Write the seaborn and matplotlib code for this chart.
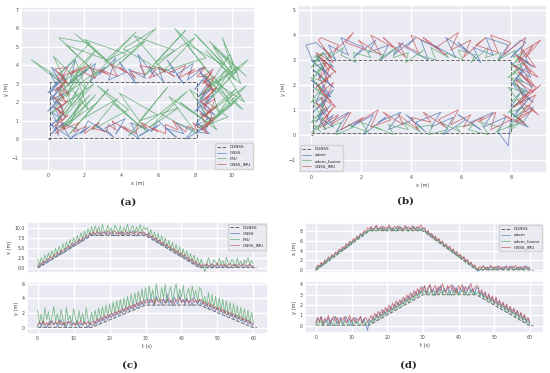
import numpy as np
import matplotlib
matplotlib.use('Agg')
import matplotlib.pyplot as plt
import seaborn as sns

# sample clock, 0.5 s step
t = np.arange(0, 60.5, 0.5)

# DGNSS reference (waypoints of the rectangle run)
dgnss_t = [0, 15, 30, 45, 60, 61]
dgnss_x_a = [0.0, 8.1, 8.1, 0.1, 0.1, 0.0]
dgnss_y_a = [0.05, 0.05, 3.1, 3.1, 0.0, 0.0]
dgnss_x_b = [0.0, 8.0, 8.0, 0.1, 0.1, 0.0]
dgnss_y_b = [0.05, 0.05, 3.0, 3.0, 0.0, 0.0]

# ---- case (a)/(c): GNSS, IMU, GNSS_IMU
gnss_x = [0.6, 0.2, 1.2, 0.7, 1.7, 1.2, 2.3, 1.8, 2.2, 3.1, 2.6, 3.6, 3.1, 4.2, 3.7, 4.0, 5.0, 4.5, 5.5, 5.0, 6.1, 5.6, 6.0, 7.0, 6.4, 7.4, 7.0, 7.9, 7.5, 8.6, 8.1,
          8.8, 8.1, 8.6, 8.9, 8.0, 8.5, 9.0, 8.2, 8.7, 8.3, 9.1, 8.4, 8.0, 8.8, 8.5, 9.0, 8.1, 8.6, 8.3, 8.9, 8.2, 8.7, 9.2, 8.4, 8.0, 8.6, 8.9, 8.3, 8.7, 8.2,
          8.5, 7.6, 7.9, 7.0, 7.4, 6.5, 6.9, 6.0, 6.3, 5.5, 5.8, 4.9, 5.3, 4.4, 4.8, 3.9, 4.2, 3.3, 3.7, 2.8, 3.1, 2.3, 2.6, 1.7, 2.1, 1.2, 1.5, 0.7, 1.0, 0.2,
          0.7, 0.1, 0.5, 0.9, 0.2, 0.6, 0.0, 0.8, 0.3, 0.7, 0.1, 0.9, 0.4, 0.2, 0.8, 0.5, 0.0, 0.6, 0.9, 0.3, 0.7, 0.2, 0.5, 0.8, 0.1, 0.6, 0.4, 0.9, 0.2, 0.5]
gnss_y = [0.2, 0.8, 0.1, 0.9, 0.5, 0.0, 0.7, 0.3, 1.0, 0.4, 0.8, 0.1, 0.6, 1.1, 0.3, 0.7, 0.0, 0.9, 0.5, 0.2, 0.8, 0.4, 1.0, 0.1, 0.6, 0.3, 0.9, 0.5, 0.0, 0.7, 0.4,
          0.3, 0.9, 0.5, 1.2, 0.7, 1.4, 0.9, 1.6, 1.1, 1.8, 1.3, 2.0, 1.5, 2.2, 1.7, 2.4, 1.9, 2.6, 2.1, 2.8, 2.3, 3.0, 2.5, 3.2, 2.7, 3.4, 2.9, 3.6, 3.1, 3.8,
          3.9, 3.2, 4.1, 3.5, 3.0, 4.3, 3.6, 3.9, 3.1, 4.0, 3.4, 4.6, 3.3, 3.8, 3.0, 4.2, 3.6, 3.2, 4.4, 3.5, 3.9, 3.1, 4.1, 3.4, 3.8, 3.0, 4.3, 3.6, 3.2, 3.9,
          3.1, 3.6, 2.9, 3.4, 2.6, 3.2, 2.5, 2.9, 2.3, 2.8, 2.1, 2.5, 1.9, 2.4, 1.7, 2.1, 1.5, 2.0, 1.3, 1.8, 1.1, 1.5, 0.9, 1.3, 0.7, 1.1, 0.5, 0.9, 0.3, 0.6]
imu_x = [2.3, 0.7, 2.6, 1.2, 3.3, 1.9, 3.8, 2.4, 4.4, 2.7, 4.9, 3.5, 5.4, 3.9, 6.0, 4.4, 6.5, 5.0, 7.1, 5.5, 7.6, 6.1, 8.1, 6.6, 8.7, 7.2, 9.2, 7.7, 9.8, 8.2, 10.3,
         8.6, 10.5, 9.0, 10.2, 8.4, 10.8, 9.3, 8.8, 10.6, 9.1, 10.0, 8.5, 10.7, 9.6, 8.9, 10.4, 8.3, 10.1, 9.2, 10.9, 8.7, 9.9, 10.5, 8.6, 10.2, 9.0, 10.8, 8.8, 10.3, 9.5,
         10.1, 8.0, 9.6, 7.5, 9.0, 6.9, 8.6, 6.3, 8.0, 5.8, 7.5, 5.2, 6.9, 4.7, 6.4, 4.1, 5.9, 3.7, 5.3, 3.1, 4.8, 2.6, 4.3, 2.0, 3.7, 1.5, 3.2, 1.0, 2.6, 0.6,
         2.3, 0.5, -0.9, 0.8, 2.6, 1.1, 0.3, 2.1, 1.5, 0.6, 2.4, 1.0, 1.8, 0.4, 2.7, 1.3, 0.7, 2.2, 1.6, 0.2, 2.5, 0.9, 1.7, 0.5, 2.0, 1.2, 2.6, 0.8, 1.9, 1.1]
imu_y = [2.4, 0.6, 1.9, 0.3, 2.7, 1.1, 2.2, 0.5, 1.6, 2.9, 0.8, 2.0, 0.4, 2.5, 1.3, 0.2, 2.8, 1.0, 1.7, 0.6, 2.6, 1.4, 0.3, 2.3, 0.9, 2.0, 0.5, 2.7, 1.2, 0.6, 2.1,
         0.7, 2.4, 1.0, 2.7, 1.2, 2.9, 1.4, 3.1, 1.6, 3.3, 1.8, 3.5, 2.0, 3.7, 2.2, 3.9, 2.4, 4.1, 2.6, 4.3, 2.8, 4.6, 3.0, 4.8, 3.2, 5.0, 3.4, 5.3, 3.6, 5.5,
         3.5, 5.7, 4.0, 5.2, 3.3, 6.0, 4.4, 3.7, 5.5, 4.1, 5.9, 3.4, 4.8, 5.6, 3.6, 4.9, 6.0, 3.9, 5.3, 4.2, 5.8, 3.5, 4.6, 5.4, 3.8, 5.7, 4.3, 5.1, 3.6, 5.5,
         5.2, 3.4, 4.3, 3.0, 4.8, 2.9, 4.5, 2.7, 4.3, 2.5, 4.1, 2.3, 3.9, 2.0, 3.7, 1.8, 3.5, 1.6, 3.3, 1.4, 3.0, 1.2, 2.8, 1.0, 2.6, 0.8, 2.4, 0.6, 2.1, 0.7]
fus_x_a = [0.4, 1.1, 0.8, 1.7, 1.4, 2.1, 2.0, 2.8, 2.4, 3.2, 3.3, 3.7, 3.5, 4.4, 4.1, 4.8, 4.9, 5.4, 5.1, 6.0, 5.7, 6.4, 6.4, 7.1, 6.8, 7.5, 7.6, 8.1, 7.9, 8.7, 8.4,
           8.9, 8.4, 9.1, 8.6, 8.3, 9.0, 8.8, 8.5, 9.2, 8.7, 8.4, 8.9, 9.1, 8.5, 8.8, 8.3, 9.0, 8.6, 9.2, 8.4, 8.8, 9.0, 8.5, 8.7, 9.1, 8.4, 8.9, 8.6, 9.0, 8.5,
           8.1, 8.6, 7.6, 8.0, 7.1, 7.5, 6.6, 6.9, 6.0, 6.4, 5.5, 5.9, 5.0, 5.3, 4.5, 4.8, 3.9, 4.3, 3.4, 3.8, 2.8, 3.3, 2.3, 2.6, 1.8, 2.2, 1.2, 1.6, 0.8, 1.1,
           0.4, 0.9, 0.6, 1.1, 0.5, 0.8, 1.0, 0.4, 0.7, 1.2, 0.5, 0.9, 0.6, 1.0, 0.3, 0.8, 1.1, 0.5, 0.7, 0.9, 0.4, 1.0, 0.6, 0.8, 1.1, 0.5, 0.7, 0.9, 0.4, 0.6]
fus_y_a = [0.3, 0.8, 0.5, 0.9, 0.4, 0.7, 0.3, 0.9, 0.6, 0.4, 0.8, 0.5, 1.0, 0.4, 0.7, 0.3, 0.8, 0.6, 0.9, 0.4, 0.6, 0.3, 0.8, 0.5, 1.0, 0.4, 0.7, 0.5, 0.9, 0.3, 0.7,
           0.9, 0.5, 1.2, 0.8, 1.4, 1.0, 1.6, 1.2, 1.8, 1.4, 2.0, 1.6, 2.2, 1.8, 2.4, 2.0, 2.6, 2.2, 2.8, 2.4, 3.0, 2.6, 3.2, 2.8, 3.4, 3.0, 3.6, 3.2, 3.8, 3.4,
           3.4, 3.9, 3.5, 3.8, 3.3, 4.0, 3.6, 3.4, 3.9, 3.7, 3.3, 3.8, 4.0, 3.5, 3.7, 3.3, 3.9, 3.6, 4.1, 3.4, 3.8, 3.5, 3.9, 3.3, 3.7, 4.0, 3.5, 3.8, 3.4, 3.9,
           3.8, 3.2, 3.6, 3.0, 3.4, 2.8, 3.2, 2.6, 2.9, 2.4, 2.8, 2.2, 2.5, 2.0, 2.3, 1.8, 2.1, 1.6, 1.9, 1.4, 1.7, 1.2, 1.5, 1.0, 1.3, 0.8, 1.1, 0.6, 0.8, 0.3]

# ---- case (b)/(d): odom, odom_fusion, GNSS_IMU
odom_x = [0.1, 0.9, 0.6, 1.5, 1.0, 2.0, 1.6, 2.5, 2.1, 3.0, 2.7, 3.6, 3.1, 4.1, 3.8, 4.6, 4.2, 5.2, 4.8, 5.7, 5.3, 6.2, 5.9, 6.8, 6.4, 7.3, 6.9, 7.8, 7.5, 7.9, 8.0,
          8.7, 8.0, 8.5, 8.9, 8.1, 8.6, 8.2, 8.8, 8.0, 8.4, 8.9, 8.3, 8.6, 8.0, 8.7, 8.2, 8.9, 8.4, 8.1, 8.6, 8.8, 8.0, 8.5, 8.3, 8.9, 8.1, 8.7, 8.4, 8.0, 8.6,
          8.4, 7.5, 7.9, 7.0, 7.3, 6.5, 6.8, 5.9, 6.3, 5.4, 5.8, 4.9, 5.2, 4.4, 4.7, 3.8, 4.2, 3.3, 3.7, 2.8, 3.1, 2.3, 2.6, 1.7, 2.1, 1.2, 1.5, 0.7, 1.0, 0.2,
          -0.2, 0.1, 0.5, 0.9, 0.2, 0.6, 0.0, 0.8, 0.4, 0.7, 0.1, 0.9, 0.3, 0.6, 0.0, 0.8, 0.5, 0.2, 0.9, 0.4, 0.7, 0.1, 0.6, 0.3, 0.8, 0.2, 0.5, 0.9, 0.3, 0.6]
odom_y = [0.2, 0.8, 0.4, 0.9, 0.1, 0.6, 0.3, 0.8, 0.0, 0.7, 0.5, 0.9, 0.2, 0.6, 0.8, 0.1, 0.5, 0.9, 0.3, 0.7, 0.0, 0.6, 0.8, 0.2, 0.5, 0.9, 0.3, 0.7, 0.1, -0.45, 0.6,
          0.3, 0.9, 0.5, 1.1, 0.7, 1.3, 0.9, 1.5, 1.1, 1.7, 1.3, 1.9, 1.5, 2.1, 1.7, 2.3, 1.9, 2.5, 2.1, 2.7, 2.3, 2.9, 2.5, 3.1, 2.7, 3.3, 2.9, 3.5, 3.1, 3.7,
          3.8, 3.0, 3.6, 3.9, 3.2, 3.5, 2.9, 3.7, 3.3, 3.9, 3.1, 3.6, 3.4, 3.8, 3.0, 3.5, 3.9, 3.2, 3.7, 3.0, 3.6, 3.3, 3.8, 3.1, 3.5, 3.9, 3.2, 3.6, 3.0, 3.7,
          3.6, 2.9, 3.3, 2.7, 3.2, 2.5, 3.0, 2.3, 2.8, 2.1, 2.6, 1.9, 2.4, 1.7, 2.2, 1.5, 2.0, 1.3, 1.8, 1.1, 1.6, 0.9, 1.4, 0.7, 1.2, 0.5, 1.0, 0.3, 0.7, 0.2]
odomf_x = [0.0, 0.6, 0.5, 1.2, 1.0, 1.7, 1.5, 2.3, 2.0, 2.8, 2.6, 3.3, 3.1, 3.9, 3.7, 4.4, 4.2, 4.9, 4.7, 5.5, 5.2, 6.0, 5.8, 6.5, 6.3, 7.1, 6.8, 7.6, 7.4, 8.1, 8.0,
           8.4, 7.9, 8.3, 8.5, 8.0, 8.2, 8.6, 7.9, 8.3, 8.1, 8.5, 8.0, 8.4, 8.2, 7.9, 8.6, 8.1, 8.3, 8.0, 8.5, 8.2, 7.9, 8.4, 8.1, 8.6, 8.0, 8.3, 8.2, 8.5, 8.1,
           8.2, 7.5, 7.6, 7.0, 7.1, 6.4, 6.6, 5.9, 6.1, 5.4, 5.5, 4.8, 5.0, 4.3, 4.5, 3.8, 3.9, 3.3, 3.4, 2.7, 2.9, 2.2, 2.4, 1.7, 1.8, 1.2, 1.3, 0.6, 0.8, 0.1,
           0.5, 0.1, 0.4, 0.0, 0.6, 0.2, 0.5, 0.1, 0.3, 0.6, 0.0, 0.4, 0.2, 0.5, 0.1, 0.6, 0.3, 0.0, 0.4, 0.5, 0.1, 0.3, 0.6, 0.2, 0.4, 0.0, 0.5, 0.3, 0.1, 0.4]
odomf_y = [0.1, 0.4, 0.2, 0.5, 0.0, 0.3, 0.4, 0.1, 0.5, 0.2, 0.3, 0.0, 0.4, 0.2, 0.5, 0.1, 0.3, 0.4, 0.0, 0.2, 0.5, 0.1, 0.3, 0.4, 0.2, 0.0, 0.5, 0.3, 0.1, 0.4, 0.2,
           0.5, 0.3, 0.7, 0.5, 0.9, 0.7, 1.1, 0.9, 1.3, 1.1, 1.5, 1.3, 1.7, 1.5, 1.9, 1.7, 2.1, 1.9, 2.3, 2.1, 2.5, 2.3, 2.7, 2.5, 2.9, 2.7, 3.1, 2.9, 3.3, 3.1,
           3.4, 3.0, 3.3, 3.1, 3.5, 2.9, 3.2, 3.4, 3.0, 3.3, 3.1, 3.5, 3.0, 3.2, 3.4, 2.9, 3.3, 3.1, 3.5, 3.0, 3.2, 3.4, 3.1, 3.3, 2.9, 3.2, 3.5, 3.0, 3.3, 3.1,
           3.3, 2.9, 3.1, 2.7, 2.9, 2.5, 2.7, 2.3, 2.5, 2.1, 2.3, 1.9, 2.1, 1.7, 1.9, 1.5, 1.7, 1.3, 1.5, 1.1, 1.3, 0.9, 1.1, 0.7, 0.9, 0.5, 0.7, 0.3, 0.4, 0.1]
fus_x_b = [0.3, 1.1, 0.8, 1.6, 1.2, 2.1, 1.9, 2.7, 2.4, 3.2, 2.9, 3.7, 3.5, 4.3, 4.0, 4.8, 4.5, 5.4, 5.1, 5.9, 5.6, 6.4, 6.1, 6.9, 6.7, 7.4, 7.2, 8.0, 7.7, 8.6, 8.3,
           8.9, 8.2, 8.7, 9.1, 8.3, 8.6, 9.0, 8.1, 8.8, 8.4, 9.2, 8.5, 8.2, 8.9, 8.6, 9.0, 8.3, 8.7, 8.1, 9.1, 8.4, 8.8, 8.2, 9.0, 8.5, 8.3, 8.9, 8.6, 9.2, 8.4,
           8.6, 7.7, 8.0, 7.2, 7.5, 6.6, 7.0, 6.1, 6.4, 5.6, 5.9, 5.0, 5.4, 4.5, 4.9, 4.0, 4.3, 3.5, 3.8, 2.9, 3.3, 2.4, 2.8, 1.9, 2.2, 1.4, 1.7, 0.9, 1.1, 0.4,
           0.3, 0.8, 0.5, 0.9, 0.2, 0.7, 0.4, 1.0, 0.6, 0.3, 0.8, 0.5, 0.9, 0.2, 0.7, 0.4, 0.9, 0.6, 0.3, 0.8, 0.5, 1.0, 0.4, 0.7, 0.2, 0.6, 0.9, 0.4, 0.7, 0.5]
fus_y_b = [0.3, 0.8, 0.4, 0.9, 0.2, 0.7, 0.5, 1.0, 0.3, 0.6, 0.9, 0.4, 0.8, 0.2, 0.7, 0.5, 0.9, 0.3, 0.6, 1.0, 0.4, 0.8, 0.3, 0.7, 0.5, 0.9, 0.2, 0.6, 0.8, 0.4, 0.7,
           1.0, 0.5, 1.2, 0.8, 1.4, 0.9, 1.6, 1.1, 1.8, 1.3, 2.0, 1.5, 2.2, 1.7, 2.4, 1.9, 2.5, 2.1, 2.8, 2.3, 3.0, 2.5, 3.2, 2.7, 3.4, 2.9, 3.6, 3.1, 3.8, 3.3,
           3.9, 3.2, 3.7, 4.0, 3.3, 3.6, 3.9, 3.1, 3.8, 3.4, 4.1, 3.5, 3.2, 3.9, 3.6, 4.0, 3.3, 3.7, 3.1, 3.9, 3.5, 4.0, 3.2, 3.8, 3.4, 3.7, 4.1, 3.3, 3.6, 3.9,
           3.8, 3.1, 3.5, 2.9, 3.3, 2.6, 3.1, 2.5, 2.9, 2.2, 2.8, 2.1, 2.5, 1.9, 2.3, 1.7, 2.1, 1.5, 1.9, 1.3, 1.7, 1.1, 1.5, 0.9, 1.3, 0.7, 1.1, 0.5, 0.8, 0.3]

c_ref = '#444444'
c_blue = '#4C72B0'
c_green = '#55A868'
c_red = '#C44E52'

sns.set_theme(style='darkgrid')
plt.rcParams['font.family'] = ['DejaVu Sans']

fig = plt.figure(figsize=(5.5, 3.73), dpi=100)

TICK_FS = 3.3
LAB_FS = 3.6
LEG_FS = 3.0


def draw(ax, x, y, color, label, ls='-', lw=0.6, alpha=0.75):
    sns.lineplot(x=x, y=y, ax=ax, sort=False, estimator=None, legend=False,
                 color=color, linestyle=ls, linewidth=lw, alpha=alpha, label=label)


def style(ax):
    ax.tick_params(labelsize=TICK_FS, pad=1.5, length=0, labelcolor='#444444')
    ax.xaxis.label.set_size(LAB_FS)
    ax.yaxis.label.set_size(LAB_FS)
    ax.xaxis.label.set_color('#444444')
    ax.yaxis.label.set_color('#444444')


def legend(ax, loc):
    ax.legend(loc=loc, fontsize=LEG_FS, handlelength=2.2, labelspacing=0.45,
              borderpad=0.5, handletextpad=0.8)


# (a) trajectory, GNSS / IMU
ax_a = fig.add_axes([0.0376, 0.5416, 0.426, 0.4397])
draw(ax_a, dgnss_x_a, dgnss_y_a, c_ref, 'DGNSS', ls='--', lw=0.7, alpha=0.8)
draw(ax_a, gnss_x, gnss_y, c_blue, 'GNSS')
draw(ax_a, imu_x, imu_y, c_green, 'IMU')
draw(ax_a, fus_x_a, fus_y_a, c_red, 'GNSS_IMU')
ax_a.set_xlim(-1.47, 11.27)
ax_a.set_ylim(-1.72, 7.16)
ax_a.set_xticks(range(0, 11, 2))
ax_a.set_yticks(range(-1, 8))
ax_a.set_xlabel('x (m)', labelpad=2)
ax_a.set_ylabel('y (m)', labelpad=2)
legend(ax_a, 'lower right')
style(ax_a)

# (b) trajectory, odometry
ax_b = fig.add_axes([0.5413, 0.5362, 0.4527, 0.4504])
draw(ax_b, dgnss_x_b, dgnss_y_b, c_ref, 'DGNSS', ls='--', lw=0.7, alpha=0.8)
draw(ax_b, odom_x, odom_y, c_blue, 'odom')
draw(ax_b, odomf_x, odomf_y, c_green, 'odom_fusion')
draw(ax_b, fus_x_b, fus_y_b, c_red, 'GNSS_IMU')
ax_b.set_xlim(-0.53, 9.44)
ax_b.set_ylim(-1.54, 5.21)
ax_b.set_xticks(range(0, 9, 2))
ax_b.set_yticks(range(-1, 6))
ax_b.set_xlabel('x (m)', labelpad=2)
ax_b.set_ylabel('y (m)', labelpad=2)
legend(ax_b, 'lower left')
style(ax_b)

# (c) x(t), y(t), GNSS / IMU
ax_c1 = fig.add_axes([0.0485, 0.2673, 0.4387, 0.1383])
ax_c2 = fig.add_axes([0.0485, 0.1038, 0.4387, 0.141])
for ax, ref, s1, s2, s3 in [(ax_c1, dgnss_x_a, gnss_x, imu_x, fus_x_a),
                            (ax_c2, dgnss_y_a, gnss_y, imu_y, fus_y_a)]:
    draw(ax, dgnss_t, ref, c_ref, 'DGNSS', ls='--', lw=0.7, alpha=0.8)
    draw(ax, t, s1, c_blue, 'GNSS')
    draw(ax, t, s2, c_green, 'IMU')
    draw(ax, t, s3, c_red, 'GNSS_IMU')
    ax.set_xlim(-3.05, 64.05)
    ax.set_xticks(range(0, 61, 10))
    style(ax)
ax_c1.set_ylim(-1.3, 11.5)
ax_c1.set_yticks([0, 2.5, 5, 7.5, 10])
ax_c1.set_yticklabels(['0.0', '2.5', '5.0', '7.5', '10.0'])
ax_c1.tick_params(labelbottom=False)
ax_c1.set_ylabel('x (m)', labelpad=2)
legend(ax_c1, 'upper right')
ax_c2.set_ylim(-0.9, 6.3)
ax_c2.set_yticks([0, 2, 4, 6])
ax_c2.set_ylabel('y (m)', labelpad=2)
ax_c2.set_xlabel('t (s)', labelpad=2)

# (d) x(t), y(t), odometry
ax_d1 = fig.add_axes([0.5545, 0.2673, 0.4351, 0.134])
ax_d2 = fig.add_axes([0.5545, 0.1064, 0.4351, 0.141])
for ax, ref, s1, s2, s3 in [(ax_d1, dgnss_x_b, odom_x, odomf_x, fus_x_b),
                            (ax_d2, dgnss_y_b, odom_y, odomf_y, fus_y_b)]:
    draw(ax, dgnss_t, ref, c_ref, 'DGNSS', ls='--', lw=0.7, alpha=0.8)
    draw(ax, t, s1, c_blue, 'odom')
    draw(ax, t, s2, c_green, 'odom_fusion')
    draw(ax, t, s3, c_red, 'GNSS_IMU')
    ax.set_xlim(-3.05, 64.05)
    ax.set_xticks(range(0, 61, 10))
    style(ax)
ax_d1.set_ylim(-0.6, 9.5)
ax_d1.set_yticks([0, 2, 4, 6, 8])
ax_d1.tick_params(labelbottom=False)
ax_d1.set_ylabel('x (m)', labelpad=2)
legend(ax_d1, 'upper right')
ax_d2.set_ylim(-0.74, 4.36)
ax_d2.set_yticks([0, 1, 2, 3, 4])
ax_d2.set_ylabel('y (m)', labelpad=2)
ax_d2.set_xlabel('t (s)', labelpad=2)

# panel captions
for xx, yy, txt in [(0.233, 0.458, '(a)'), (0.738, 0.461, '(b)'),
                    (0.236, 0.021, '(c)'), (0.742, 0.021, '(d)')]:
    fig.text(xx, yy, txt, ha='center', va='center', fontsize=7.5,
             fontweight='bold', family='DejaVu Serif')

fig.savefig('out.png', dpi=100)
